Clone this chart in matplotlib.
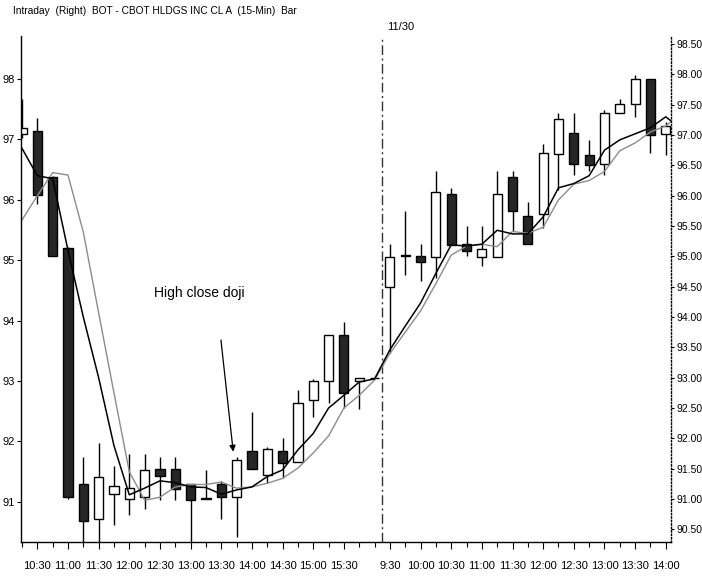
import numpy as np
import matplotlib
matplotlib.use("Agg")
import matplotlib.pyplot as plt
from matplotlib.ticker import FormatStrFormatter

plt.rcParams['font.family'] = ['Liberation Sans', 'DejaVu Sans']

# 15-min bars, two sessions (11/29 afternoon, 11/30 morning)
times = ['10:15', '10:30', '10:45', '11:00', '11:15', '11:30', '11:45', '12:00',
         '12:15', '12:30', '12:45', '13:00', '13:15', '13:30', '13:45', '14:00',
         '14:15', '14:30', '14:45', '15:00', '15:15', '15:30', '15:45', '16:00',
         '9:30', '9:45', '10:00', '10:15', '10:30', '10:45', '11:00', '11:15',
         '11:30', '11:45', '12:00', '12:15', '12:30', '12:45', '13:00', '13:15',
         '13:30', '13:45', '14:00']
opens = [97.02, 97.07, 96.31, 95.13, 91.24, 90.67, 91.09, 91.00, 91.04, 91.49,
         91.49, 91.24, 91.00, 91.24, 91.04, 91.79, 91.40, 91.79, 91.61, 92.64,
         92.94, 93.71, 92.94, 93.00,
         94.50, 95.00, 95.01, 94.99, 96.02, 95.20, 94.99, 94.99, 96.31, 95.67,
         95.70, 96.69, 97.03, 96.67, 96.53, 97.36, 97.51, 97.92, 97.02]
highs = [97.60, 97.28, 96.33, 95.15, 91.70, 91.93, 91.55, 91.74, 91.74, 91.70,
         91.70, 91.24, 91.48, 91.29, 91.70, 92.44, 91.86, 92.00, 92.80, 92.98,
         93.71, 93.91, 92.99, 93.00,
         95.20, 95.74, 95.20, 96.41, 96.12, 95.50, 95.50, 96.41, 96.41, 95.90,
         96.86, 97.36, 97.37, 96.92, 97.41, 97.60, 97.99, 97.92, 97.22]
lows = [96.95, 95.86, 95.00, 91.00, 90.25, 90.25, 90.57, 90.74, 90.83, 90.98,
        90.98, 90.25, 91.00, 90.67, 90.37, 91.49, 91.26, 91.34, 91.61, 92.35,
        92.58, 92.50, 92.48, 93.00,
        93.40, 94.69, 94.59, 94.64, 95.19, 95.01, 94.84, 94.99, 95.41, 95.21,
        95.46, 96.10, 96.34, 96.40, 96.34, 97.36, 97.30, 96.71, 96.67]
closes = [97.12, 96.01, 95.00, 91.04, 90.63, 91.37, 91.22, 91.19, 91.48, 91.38,
          91.16, 90.98, 91.02, 91.03, 91.64, 91.49, 91.82, 91.59, 92.59, 92.94,
          93.71, 92.74, 92.99, 93.00,
          94.99, 95.02, 94.90, 96.06, 95.19, 95.09, 95.12, 96.02, 95.75, 95.21,
          96.71, 97.26, 96.52, 96.51, 97.37, 97.51, 97.92, 97.00, 97.15]

# moving averages (one extra point past the last bar, clipped by the axis)
ma_fast = [96.78, 96.33, 96.28, 95.10, 94.00, 93.00, 91.88, 91.07, 91.18, 91.30,
           91.27, 91.20, 91.19, 91.08, 91.15, 91.20, 91.37, 91.48, 91.81, 92.08,
           92.50, 92.71, 92.93, 92.98, 93.46, 93.85, 94.23, 94.72, 95.19, 95.17,
           95.20, 95.43, 95.37, 95.37, 95.65, 96.13, 96.20, 96.33, 96.75, 96.92,
           97.02, 97.12, 97.30, 97.10]
ma_slow = [95.60, 96.00, 96.38, 96.34, 95.40, 94.07, 92.75, 91.45, 90.98, 91.03,
           91.20, 91.24, 91.24, 91.28, 91.18, 91.20, 91.26, 91.34, 91.51, 91.76,
           92.04, 92.50, 92.71, 92.96, 93.40, 93.75, 94.10, 94.55, 95.02, 95.17,
           95.20, 95.16, 95.41, 95.38, 95.48, 95.93, 96.19, 96.25, 96.40, 96.74,
           96.87, 97.05, 97.15, 97.35]

right_ticks = np.arange(90.5, 98.51, 0.5)
left_ticks = [91, 92, 93, 94, 95, 96, 97, 98]

x = np.arange(len(times))
o = np.array(opens)
c = np.array(closes)
up = c >= o

fig = plt.figure(figsize=(7.02, 5.77), dpi=100)
ax = fig.add_axes([21 / 702, 1 - 542 / 577, 650 / 702, 506 / 577])
axl = ax.twinx()

# wicks then bodies
ax.vlines(x, lows, highs, color='black', lw=1.0, zorder=2)
ax.bar(x[up], (c - o)[up], bottom=o[up], width=0.6, color='white',
       edgecolor='black', linewidth=1.0, zorder=3)
ax.bar(x[~up], (o - c)[~up], bottom=c[~up], width=0.6, color='#262626',
       edgecolor='black', linewidth=1.0, zorder=3)

xm = np.arange(len(ma_slow))
ax.plot(xm, ma_slow, color='#8c8c8c', lw=1.0, zorder=4)
ax.plot(xm, ma_fast, color='black', lw=1.1, zorder=5)

# session break
ax.axvline(23.5, color='#333333', lw=1.0, linestyle=(0, (7, 2.5, 1.5, 2.5)), zorder=1)

ax.set_xlim(-0.065, 42.34)
ax.set_ylim(90.292, 98.632)

# x ticks: label on the half hours
major = [i for i, t in enumerate(times) if t.endswith((':00', ':30')) and t != '16:00']
minor = [i for i in range(len(times)) if i not in major]
ax.set_xticks(major)
ax.set_xticklabels([times[i] for i in major])
ax.set_xticks(minor, minor=True)
ax.tick_params(axis='x', which='major', direction='out', length=5, width=0.8,
               labelsize=8, pad=9)
ax.tick_params(axis='x', which='minor', direction='out', length=3.5, width=0.8)

# price scale on the right (main), reference scale on the left
ax.yaxis.tick_right()
ax.yaxis.set_label_position('right')
ax.set_yticks(right_ticks)
ax.yaxis.set_major_formatter(FormatStrFormatter('%.2f'))
ax.tick_params(axis='y', direction='out', length=2.5, width=0.8, labelsize=7.5, pad=1.5)

ax.spines['top'].set_visible(False)
ax.spines['left'].set_visible(False)
ax.spines['right'].set_linestyle((0, (1, 1.5)))
ax.spines['right'].set_linewidth(1.0)
ax.spines['bottom'].set_linewidth(1.0)

axl.set_ylim(90.334, 98.712)
axl.yaxis.tick_left()
axl.yaxis.set_label_position('left')
axl.set_yticks(left_ticks)
axl.tick_params(axis='y', direction='out', length=3, width=0.8, labelsize=8, pad=1.5)
for s in ['top', 'right', 'bottom']:
    axl.spines[s].set_visible(False)
axl.spines['left'].set_visible(True)
axl.spines['left'].set_linewidth(1.0)

ax.text(11.6, 94.4, 'High close doji', fontsize=10, ha='center', va='center')
ax.annotate('', xy=(13.78, 91.78), xytext=(12.98, 93.62),
            arrowprops=dict(arrowstyle='-|>', color='black', lw=0.9,
                            mutation_scale=9, shrinkA=0, shrinkB=0))

fig.text(401 / 702, 1 - 27 / 577, '11/30', fontsize=8, ha='center', va='center')
fig.text(13 / 702, 1 - 11 / 577,
         'Intraday  (Right)  BOT - CBOT HLDGS INC CL A  (15-Min)  Bar',
         fontsize=7.3, ha='left', va='center')

fig.savefig('out.png', dpi=100, facecolor='white')
